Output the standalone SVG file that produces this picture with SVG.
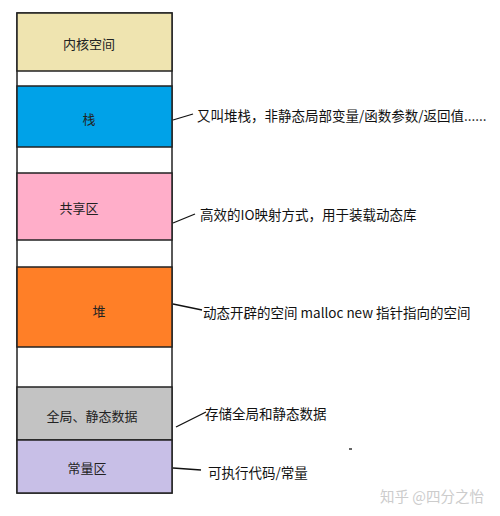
<svg xmlns="http://www.w3.org/2000/svg" width="500" height="516" viewBox="0 0 500 516">
<style>
.box{stroke:#222;stroke-width:1.5}
.t{font-family:"Noto Sans CJK SC","Liberation Sans",sans-serif;font-size:13px;fill:#222;dominant-baseline:central}
.lbl{font-family:"Noto Sans CJK SC","Liberation Sans",sans-serif;font-size:13.5px;fill:#111;dominant-baseline:central}
.ln{stroke:#111;stroke-width:1.3;fill:none}
</style>
<rect width="500" height="516" fill="#fff"/>
<rect x="17" y="13" width="155" height="480" fill="#fff" class="box"/>
<g id="kernel"><rect x="17" y="13" width="155" height="58" fill="#EFE4B0" class="box"/><text x="89" y="43" text-anchor="middle" class="t">内核空间</text></g>
<g id="stack"><rect x="17" y="86" width="155" height="61" fill="#00A2E8" class="box"/><text x="89" y="118" text-anchor="middle" class="t">栈</text></g>
<g id="shared"><rect x="17" y="173" width="155" height="67" fill="#FFAEC9" class="box"/><text x="79" y="207" text-anchor="middle" class="t">共享区</text></g>
<g id="heap"><rect x="17" y="267" width="155" height="80" fill="#FF7F27" class="box"/><text x="99" y="310" text-anchor="middle" class="t">堆</text></g>
<g id="global"><rect x="17" y="387" width="155" height="53" fill="#C3C3C3" class="box"/><text x="92" y="415" text-anchor="middle" class="t">全局、静态数据</text></g>
<g id="const"><rect x="17" y="440" width="155" height="53" fill="#C8BFE7" class="box"/><text x="87" y="467" text-anchor="middle" class="t">常量区</text></g>
<g id="connectors">
<line x1="173" y1="120" x2="193" y2="114" class="ln"/>
<line x1="173" y1="223" x2="195" y2="214" class="ln"/>
<line x1="173" y1="304" x2="202" y2="310" class="ln"/>
<line x1="176" y1="427" x2="206" y2="412" class="ln"/>
<line x1="173" y1="468" x2="201" y2="470" class="ln"/>
</g>
<g id="labels">
<text x="197" y="115" class="lbl">又叫堆栈，非静态局部变量/函数参数/返回值......</text>
<text x="200" y="214" class="lbl">高效的IO映射方式，用于装载动态库</text>
<text x="203" y="312" class="lbl">动态开辟的空间 malloc new 指针指向的空间</text>
<text x="205" y="413" class="lbl">存储全局和静态数据</text>
<text x="208" y="472" class="lbl">可执行代码/常量</text>
</g>
<line x1="349" y1="449" x2="352" y2="449" stroke="#333" stroke-width="1.5"/>
<text x="380" y="495" class="lbl" style="fill:#ccc;font-size:14.5px">知乎 @四分之怡</text>
</svg>
